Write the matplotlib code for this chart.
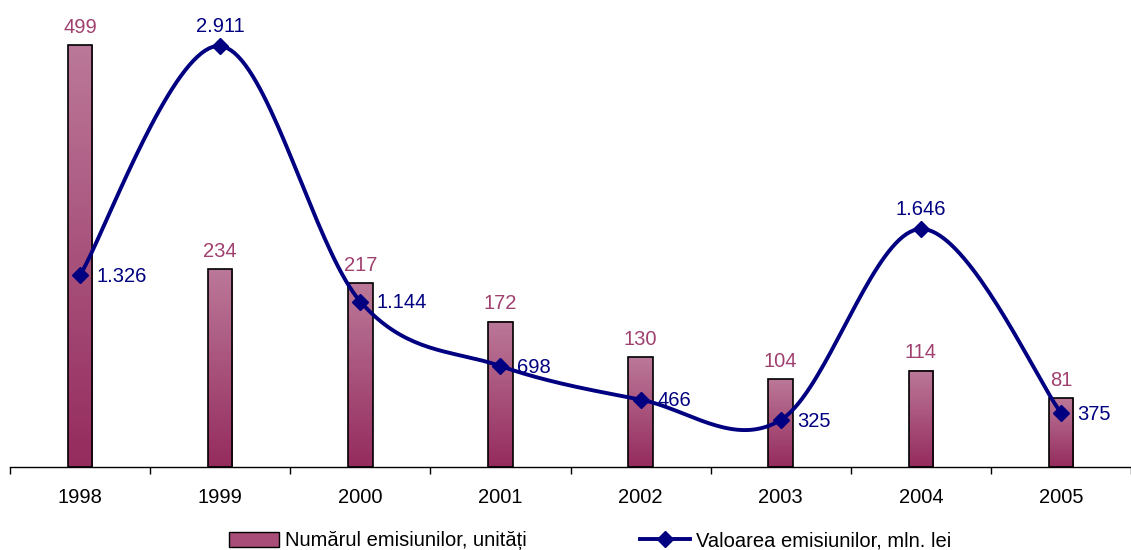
import numpy as np
import matplotlib.pyplot as plt
from matplotlib.patches import Patch
from matplotlib.lines import Line2D
from matplotlib.colors import LinearSegmentedColormap

plt.rcParams['font.family'] = ['Liberation Sans', 'DejaVu Sans']

# Data
years = ['1998', '1999', '2000', '2001', '2002', '2003', '2004', '2005']
numar = [499, 234, 217, 172, 130, 104, 114, 81]            # number of issues, units
valoare = [1326, 2911, 1144, 698, 466, 325, 1646, 375]     # value of issues, mln. lei

bar_top = '#bb7898'
bar_bot = '#952c5e'
lbl_bar = '#a0406f'
navy = '#000080'
fs = 14.5

fig = plt.figure(figsize=(11.31, 5.5), dpi=100)
W, H = 1131, 550
ax = fig.add_axes([10 / W, (H - 467) / H, (W - 10) / W, 437 / H])
ax2 = ax.twinx()

x = np.arange(len(years))
bw = 0.175

# bars with vertical gradient
cmap = LinearSegmentedColormap.from_list('g', [bar_bot, bar_top])
grad = np.linspace(1, 0, 100).reshape(-1, 1)
for xi, v in zip(x, numar):
    ax.imshow(grad, cmap=cmap, vmin=0, vmax=1, aspect='auto',
              extent=(xi - bw / 2, xi + bw / 2, 0, v), zorder=2)
ax.bar(x, numar, bw, facecolor='none', edgecolor='black', linewidth=1.2, zorder=3)
for xi, v in zip(x, numar):
    ax.annotate(str(v), (xi, v), xytext=(0, 6), textcoords='offset points',
                ha='center', va='bottom', color=lbl_bar, fontsize=fs)

# smoothed line (Bezier through the points, like a spreadsheet "smooth line")
pts = np.column_stack([x, valoare]).astype(float)
ext = np.vstack([pts[0], pts, pts[-1]])
curve = []
t = np.linspace(0, 1, 40)[:, None]
for i in range(len(pts) - 1):
    p0, p3 = pts[i], pts[i + 1]
    p1 = p0 + (ext[i + 2] - ext[i]) / 6
    p2 = p3 - (ext[i + 3] - ext[i + 1]) / 6
    seg = (1 - t) ** 3 * p0 + 3 * (1 - t) ** 2 * t * p1 + 3 * (1 - t) * t ** 2 * p2 + t ** 3 * p3
    curve.append(seg)
curve = np.vstack(curve)
ax2.plot(curve[:, 0], curve[:, 1], color=navy, linewidth=2.8, zorder=4)
ax2.plot(x, valoare, linestyle='none', marker='D', markersize=8, color=navy, zorder=5)

above = {1, 6}
for i, (xi, v) in enumerate(zip(x, valoare)):
    s = f'{v:,}'.replace(',', '.')
    if i in above:
        ax2.annotate(s, (xi, v), xytext=(0, 7), textcoords='offset points',
                     ha='center', va='bottom', color=navy, fontsize=fs)
    else:
        ax2.annotate(s, (xi, v), xytext=(12, -1), textcoords='offset points',
                     ha='left', va='center', color=navy, fontsize=fs)

ax.set_xlim(-0.495, 7.44)
ax.set_ylim(0, 499 * 437 / 422)
ax2.set_ylim(0, 2911 * 437 / 421)

for a in (ax, ax2):
    for sp in ('top', 'right', 'left'):
        a.spines[sp].set_visible(False)
    a.set_yticks([])
ax.spines['bottom'].set_linewidth(1.0)
ax2.spines['bottom'].set_visible(False)

ax.set_xticks(np.arange(-0.5, 8, 1))
ax.set_xticklabels([])
ax.set_xticks(x, minor=True)
ax.set_xticklabels(years, minor=True, fontsize=fs)
ax.tick_params(axis='x', which='major', length=5, width=1, direction='out')
ax.tick_params(axis='x', which='minor', length=0, pad=15)

handles = [Patch(facecolor='#a84d78', edgecolor='black', linewidth=1),
           Line2D([], [], color=navy, linewidth=2.8, marker='D', markersize=8)]
fig.legend(handles, ['Numărul emisiunilor, unități', 'Valoarea emisiunilor, mln. lei'],
           loc='center', bbox_to_anchor=(590 / W, 1 - 541 / H), ncol=2, frameon=False,
           fontsize=fs, handlelength=2.5, handleheight=0.7, handletextpad=0.3,
           columnspacing=5.6, borderpad=0)

fig.savefig('out.png', dpi=100)
